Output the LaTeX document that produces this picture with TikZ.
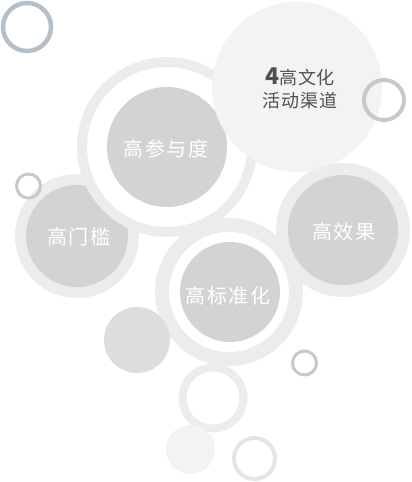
\documentclass[tikz,border=0pt]{standalone}
\usepackage{fontspec}
\setmainfont{Noto Sans CJK SC}
\usetikzlibrary{positioning}
\definecolor{ring_blue}{RGB}{182,190,198}
\definecolor{ring_gray}{RGB}{200,200,200}
\definecolor{band_gray}{RGB}{236,236,236}
\definecolor{core_gray}{RGB}{211,211,211}
\definecolor{pale_gray}{RGB}{243,243,243}
\definecolor{stone_gray}{RGB}{220,222,222}
\definecolor{label_dark}{RGB}{80,80,80}

\begin{document}
\begin{tikzpicture}[
    x=1pt, y=-1pt,
    disc/.style={circle, inner sep=0pt, outer sep=0pt, minimum size=#1},
    hoop/.style={disc=#1, draw, fill=none},
    core/.style={disc=#1, fill=core_gray},
    tag/.style={text=white, font=\fontsize{20}{22}\selectfont\addfontfeature{LetterSpace=8}},
]
\useasboundingbox (0,0) rectangle (412,482);

% Top left hoop
\node[hoop=48pt, draw=ring_blue, line width=4.5pt] (hoopTL) at (27,27) {};

% Threshold circle
\node[disc=124pt, fill=band_gray] (menShell) at (77,236) {};
\node[core=102pt] (menCore) at (menShell.center) {};
\node[tag] (menText) at (79,237) {高门槛};

% Participation circle
\node[disc=170pt, fill=white, draw=band_gray, line width=10pt] (canShell) at (167,147) {};
\node[core=120pt] (canCore) at (canShell.center) {};
\node[tag] (canText) at (166,149) {高参与度};

% Culture circle
\node[disc=170pt, fill=pale_gray] (wenDisc) at (297,87) {};
\node[text=label_dark, align=center, font=\fontsize{18}{23}\selectfont\addfontfeature{LetterSpace=5}] (wenText) at (300,88)
    {{\bfseries\fontsize{23}{23}\selectfont 4}高文化\\活动渠道};

% Small hoops
\node[hoop=40pt, draw=ring_gray, line width=4pt] (hoopR) at (384,100) {};
\node[hoop=24pt, draw=ring_gray, line width=3pt] (hoopL) at (28.5,186) {};

% Effect circle
\node[disc=134pt, fill=band_gray] (xiaoShell) at (343,230) {};
\node[core=110pt] (xiaoCore) at (xiaoShell.center) {};
\node[tag] (xiaoText) at (344,232) {高效果};

% Standard circle
\node[disc=134pt, fill=white, draw=band_gray, line width=14pt] (biaoShell) at (229,292) {};
\node[core=100pt] (biaoCore) at (230,292) {};
\node[tag] (biaoText) at (228,296) {高标准化};

% Bottom decorations
\node[disc=66pt, fill=stone_gray] (stone) at (137,340) {};
\node[hoop=61pt, draw=band_gray, line width=8pt] (hoopB) at (213,398) {};
\node[hoop=24pt, draw=ring_gray, line width=3pt] (hoopS) at (304.5,363) {};
\node[disc=49pt, fill=pale_gray] (pebble) at (190.5,449.5) {};
\node[hoop=41pt, draw=band_gray!97!black, line width=4pt] (hoopE) at (254.5,458.5) {};

\end{tikzpicture}
\end{document}
